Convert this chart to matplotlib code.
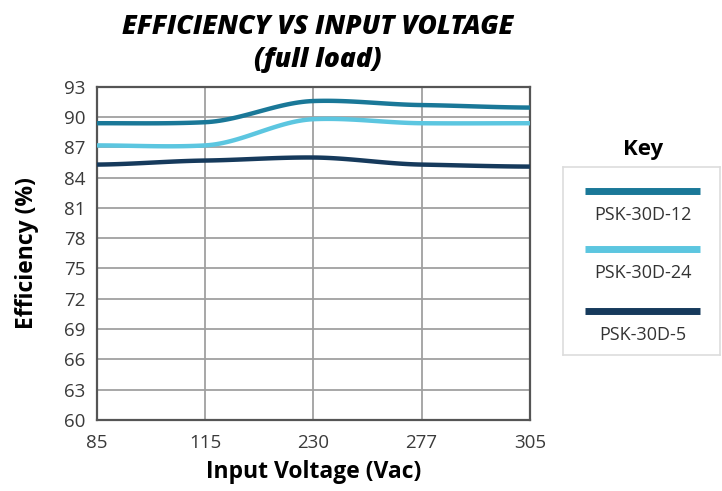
import numpy as np
import matplotlib.pyplot as plt

plt.rcParams['font.family'] = ['Open Sans', 'DejaVu Sans']

# data
voltages = ['85', '115', '230', '277', '305']
psk_12 = [89.4, 89.5, 91.6, 91.2, 90.95]
psk_24 = [87.2, 87.2, 89.8, 89.4, 89.4]
psk_5 = [85.3, 85.7, 86.0, 85.3, 85.1]
yticks = [60, 63, 66, 69, 72, 75, 78, 81, 84, 87, 90, 93]

names = ['PSK-30D-12', 'PSK-30D-24', 'PSK-30D-5']
colors = ['#1a7898', '#5cc6e0', '#163a5c']


def smooth(y, n=30, k=0.45):
    # cardinal spline through the points (smoothed line look)
    y = np.asarray(y, float)
    x = np.arange(len(y), dtype=float)
    ext = np.concatenate([[y[0]], y, [y[-1]]])
    xs, ys = [], []
    for i in range(len(y) - 1):
        p0, p1, p2, p3 = ext[i], ext[i + 1], ext[i + 2], ext[i + 3]
        t = np.linspace(0, 1, n, endpoint=(i == len(y) - 2))
        m1 = k * (p2 - p0) / 2
        m2 = k * (p3 - p1) / 2
        h00 = 2 * t**3 - 3 * t**2 + 1
        h10 = t**3 - 2 * t**2 + t
        h01 = -2 * t**3 + 3 * t**2
        h11 = t**3 - t**2
        xs.append(x[i] + t)
        ys.append(h00 * p1 + h10 * m1 + h01 * p2 + h11 * m2)
    return np.concatenate(xs), np.concatenate(ys)


fig = plt.figure(figsize=(7.22, 4.91), dpi=100)
ax = fig.add_axes([0.134, 0.145, 0.600, 0.678])

for vals, c in zip([psk_12, psk_24, psk_5], colors):
    xs, ys = smooth(vals)
    ax.plot(xs, ys, color=c, lw=3.2, solid_capstyle='butt', zorder=3)

ax.set_xlim(0, len(voltages) - 1)
ax.set_ylim(60, 93)
ax.set_xticks(range(len(voltages)))
ax.set_xticklabels(voltages)
ax.set_yticks(yticks)
ax.grid(True, color='#a0a0a0', lw=1.3)
ax.tick_params(length=0, labelsize=13.5, colors='#3a3a3a', pad=8)
ax.tick_params(axis='x', pad=10)
for s in ax.spines.values():
    s.set_color('#555555')
    s.set_linewidth(1.6)

ax.set_xlabel('Input Voltage (Vac)', fontsize=16.5, fontweight='bold', labelpad=6)
ax.set_ylabel('Efficiency (%)', fontsize=16.5, fontweight='bold', labelpad=18)

fig.text(0.44, 0.945, 'EFFICIENCY VS INPUT VOLTAGE', ha='center', va='center',
         fontsize=19, fontweight='heavy', fontstyle='italic')
fig.text(0.44, 0.878, '(full load)', ha='center', va='center',
         fontsize=19, fontweight='heavy', fontstyle='italic')

# key box
lg = fig.add_axes([563 / 722, 1 - 355 / 491, 157 / 722, 188 / 491])
lg.set_xlim(0, 1)
lg.set_ylim(0, 1)
lg.set_xticks([])
lg.set_yticks([])
for s in lg.spines.values():
    s.set_color('#dddddd')
    s.set_linewidth(1.2)
fig.text(643 / 722, 1 - 150 / 491, 'Key', ha='center', va='center',
         fontsize=16, fontweight='bold')
line_y = [0.875, 0.565, 0.235]
for name, c, yy in zip(names, colors, line_y):
    lg.plot([0.14, 0.87], [yy, yy], color=c, lw=5, solid_capstyle='butt')
    lg.text(0.51, yy - 0.13, name, ha='center', va='center', fontsize=13,
            color='#333333')

fig.savefig('out.png', dpi=100)
